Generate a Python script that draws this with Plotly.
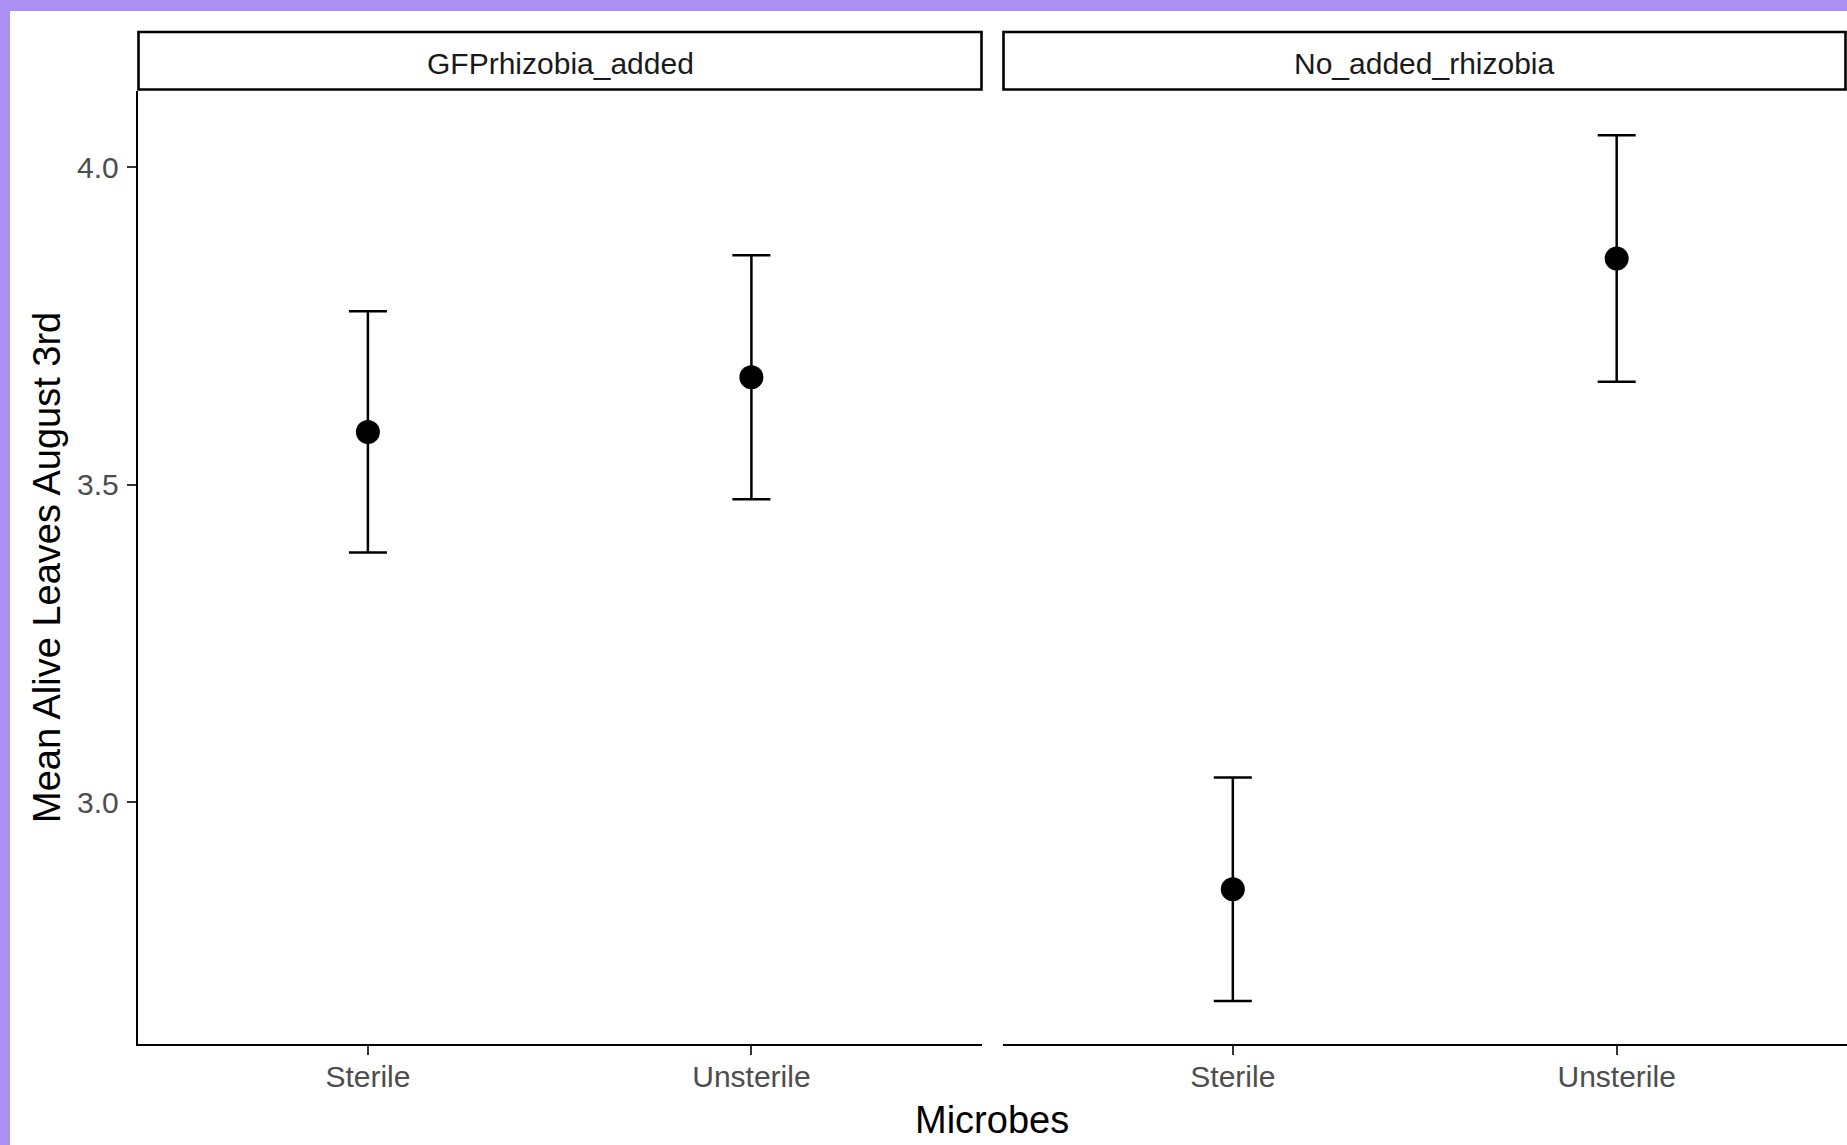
import plotly.graph_objects as go

# ---- data ----
microbes = ["Sterile", "Unsterile"]
panels = ["GFPrhizobia_added", "No_added_rhizobia"]
gfp_mean = [3.583, 3.669]
gfp_se = [0.190, 0.192]
no_mean = [2.863, 3.856]
no_se = [0.176, 0.194]
y_ticks = [3.0, 3.5, 4.0]
y_tick_labels = ["3.0", "3.5", "4.0"]

W, H = 1847, 1145
FONT = "Arial, Liberation Sans, sans-serif"

def px(x):
    return x / W

def py(y):
    return 1 - y / H

fig = go.Figure()

for i, (m, se) in enumerate([(gfp_mean, gfp_se), (no_mean, no_se)]):
    fig.add_trace(go.Scatter(
        x=microbes, y=m,
        mode="markers",
        marker=dict(color="black", size=24),
        error_y=dict(type="data", array=se, visible=True, color="black",
                     thickness=2.5, width=19),
        xaxis="x" if i == 0 else "x2",
        yaxis="y" if i == 0 else "y2",
        showlegend=False,
        hoverinfo="skip",
    ))

ydom = [py(1043.7), py(90.5)]
yrange = [2.6197, 4.1206]

common_x = dict(
    type="category", categoryorder="array", categoryarray=microbes,
    range=[-0.6, 1.6], showline=True, linecolor="black", linewidth=2,
    ticks="outside", ticklen=9, tickwidth=2, tickcolor="#333333",
    tickfont=dict(family=FONT, size=30, color="#4D4D4D"),
    ticklabelstandoff=-4,
    showgrid=False, zeroline=False, automargin=False,
)

fig.update_layout(
    width=W, height=H,
    margin=dict(l=0, r=0, t=0, b=0),
    paper_bgcolor="white", plot_bgcolor="white",
    font=dict(family=FONT),
    xaxis=dict(domain=[px(137.8), px(981.5)], anchor="y", **common_x),
    xaxis2=dict(domain=[px(1002.5), 1.0], anchor="y2", **common_x),
    yaxis=dict(domain=ydom, range=yrange, anchor="x",
               tickvals=y_ticks, ticktext=y_tick_labels,
               showline=True, linecolor="black", linewidth=2,
               ticks="outside", ticklen=9, tickwidth=2, tickcolor="#333333",
               tickfont=dict(family=FONT, size=30, color="#4D4D4D"),
               ticklabelstandoff=2,
               showgrid=False, zeroline=False, automargin=False),
    yaxis2=dict(domain=ydom, range=yrange, anchor="x2", matches="y",
                showline=False, showticklabels=False, ticks="",
                showgrid=False, zeroline=False),
    showlegend=False,
)

shapes = [
    # purple frame (top and left)
    dict(type="rect", xref="paper", yref="paper", x0=0, x1=1, y0=py(11), y1=1,
         fillcolor="#AB8FF2", line=dict(width=0), layer="above"),
    dict(type="rect", xref="paper", yref="paper", x0=0, x1=px(10), y0=0, y1=1,
         fillcolor="#AB8FF2", line=dict(width=0), layer="above"),
    # strips
    dict(type="rect", xref="paper", yref="paper", x0=px(138.5), x1=px(981.5),
         y0=py(89.5), y1=py(32), fillcolor="white",
         line=dict(color="black", width=2.6)),
    dict(type="rect", xref="paper", yref="paper", x0=px(1003.5), x1=px(1845.5),
         y0=py(89.5), y1=py(32), fillcolor="white",
         line=dict(color="black", width=2.6)),
]
fig.update_layout(shapes=shapes)

annotations = [
    dict(text=panels[0], x=px((138.5 + 981.5) / 2), y=py(63.5), xref="paper", yref="paper",
         showarrow=False, xanchor="center", yanchor="middle",
         font=dict(family=FONT, size=30, color="#1A1A1A")),
    dict(text=panels[1], x=px((1003.5 + 1845.5) / 2), y=py(63.5), xref="paper", yref="paper",
         showarrow=False, xanchor="center", yanchor="middle",
         font=dict(family=FONT, size=30, color="#1A1A1A")),
    dict(text="Microbes", x=px(992), y=py(1120), xref="paper", yref="paper",
         showarrow=False, xanchor="center", yanchor="middle",
         font=dict(family=FONT, size=38, color="black")),
    dict(text="Mean Alive Leaves August 3rd", x=px(47), y=py(568), xref="paper", yref="paper",
         showarrow=False, xanchor="center", yanchor="middle", textangle=-90,
         font=dict(family=FONT, size=38, color="black")),
]
fig.update_layout(annotations=annotations)

fig.write_html(
    "out.html",
    config={"displayModeBar": False},
    post_script="document.body.style.margin='0';document.body.style.overflow='hidden';",
)
